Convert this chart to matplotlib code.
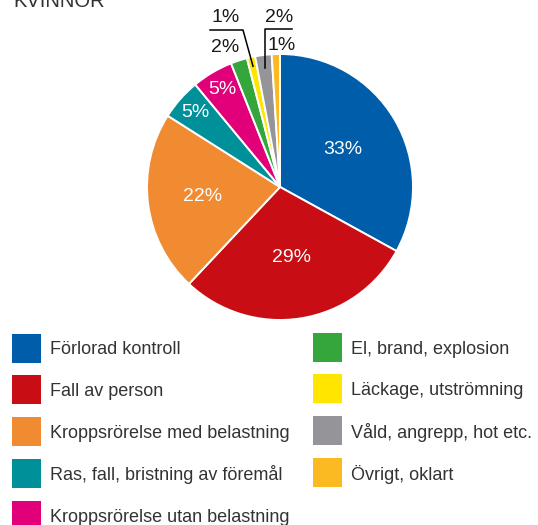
import numpy as np
import matplotlib
matplotlib.use("Agg")
import matplotlib.pyplot as plt
from matplotlib.patches import Rectangle

plt.rcParams['font.family'] = ['Liberation Sans', 'DejaVu Sans']

title = "KVINNOR"
categories = [
    "Förlorad kontroll",
    "Fall av person",
    "Kroppsrörelse med belastning",
    "Ras, fall, bristning av föremål",
    "Kroppsrörelse utan belastning",
    "El, brand, explosion",
    "Läckage, utströmning",
    "Våld, angrepp, hot etc.",
    "Övrigt, oklart",
]
values = [33, 29, 22, 5, 5, 2, 1, 2, 1]
labels = ["33%", "29%", "22%", "5%", "5%", "2%", "1%", "2%", "1%"]
colors = ["#005DA9", "#C80D14", "#F08B32", "#00909A", "#E2007A",
          "#35A63C", "#FFE500", "#959599", "#FBBA22"]

W, H = 538, 525
fig = plt.figure(figsize=(W / 100, H / 100), dpi=100)
ax = fig.add_axes([0, 0, 1, 1])

def py(y):  # pixel-from-top to data y
    return H - y

cx, cy, R = 280, py(187), 133
wedges, _ = ax.pie(values, colors=colors, startangle=90, counterclock=False,
                   center=(cx, cy), radius=R,
                   wedgeprops=dict(edgecolor='white', linewidth=1.4))
ax.set_xlim(0, W)
ax.set_ylim(0, H)
ax.set_aspect('equal')
ax.axis('off')

pfs = 14
# inside labels
inside = {0: 0.55, 1: 0.54, 2: 0.59, 3: 0.85, 4: 0.85}
for i, w in enumerate(wedges):
    mid = np.deg2rad((w.theta1 + w.theta2) / 2)
    if i in inside:
        rr = inside[i] * R
        ax.text(cx + rr * np.cos(mid), cy + rr * np.sin(mid), labels[i],
                color='white', fontsize=pfs, ha='center', va='center')

# outside labels for small slices
def anchor(i, f):
    w = wedges[i]
    mid = np.deg2rad((w.theta1 + w.theta2) / 2)
    return cx + f * R * np.cos(mid), cy + f * R * np.sin(mid)

txtc = '#1a1a1a'
ax.text(225, py(48), labels[5], color=txtc, fontsize=pfs, ha='center', va='center')
ax.text(226, py(18), labels[6], color=txtc, fontsize=pfs, ha='center', va='center')
ax_, ay_ = anchor(6, 0.93)
ax.plot([210, 243, ax_], [py(30), py(30), ay_], color='black', lw=1.1)
ax.text(279, py(18), labels[7], color=txtc, fontsize=pfs, ha='center', va='center')
gx, gy = anchor(7, 0.9)
ax.plot([292, gx, gx], [py(29), py(29), gy], color='black', lw=1.1)
ax.text(282, py(45), labels[8], color=txtc, fontsize=pfs, ha='center', va='center')

# title (partially cut at top)
ax.text(13, py(7), title, color='#333333', fontsize=14.5, ha='left', va='baseline')

# legend
legc = '#333333'
rows = [348, 389.5, 431, 473, 515]
sq = 29
for i, (name, col) in enumerate(zip(categories, colors)):
    if i < 5:
        x0, yc = 12, rows[i]
    else:
        x0, yc = 313, rows[i - 5] - 1
    ax.add_patch(Rectangle((x0, py(yc) - sq / 2), sq, sq, facecolor=col,
                           edgecolor='none'))
    ax.text(x0 + 38, py(yc + 2), name, color=legc, fontsize=13,
            ha='left', va='center')

fig.savefig("out.png", dpi=100)
